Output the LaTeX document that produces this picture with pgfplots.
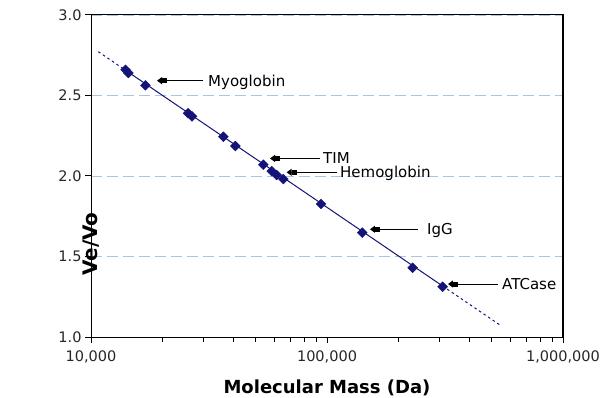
\documentclass[border=0pt]{standalone}
\usepackage{fontspec}
\setmainfont{DejaVu Sans}
\usepackage{pgfplots}
\pgfplotsset{compat=1.18}
\usetikzlibrary{arrows.meta}
\definecolor{navy}{RGB}{20,20,120}
\definecolor{gridblue}{RGB}{170,198,228}
\begin{document}
\begin{tikzpicture}
\begin{axis}[
  xmode=log, log basis x=10,
  scale only axis, width=472bp, height=322bp,
  xmin=1e4, xmax=1e6, ymin=1, ymax=3,
  xtick={1e4,1e5,1e6},
  xticklabels={{10,000},{100,000},{1,000,000}},
  minor xtick={2e4,3e4,4e4,5e4,6e4,7e4,8e4,9e4,2e5,3e5,4e5,5e5,6e5,7e5,8e5,9e5},
  ytick={1,1.5,2,2.5,3},
  yticklabels={1.0,1.5,2.0,2.5,3.0},
  tick align=outside,
  xtick pos=bottom, ytick pos=left,
  major tick length=6bp, minor tick length=5bp,
  every tick/.style={black, line width=1bp},
  axis line style={black, line width=1bp},
  ymajorgrids,
  grid style={gridblue, line width=0.8bp, dash pattern=on 11bp off 5bp},
  tick label style={font=\fontsize{14.5bp}{17bp}\selectfont, text=black!85},
  xticklabel style={yshift=-4bp},
  xlabel={Molecular Mass (Da)},
  ylabel={Ve/Vo},
  xlabel style={font=\fontsize{18bp}{21bp}\selectfont\bfseries, at={(rel axis cs:0.5,0)}, anchor=base, yshift=-56bp},
  ylabel style={font=\fontsize{20bp}{24bp}\selectfont\bfseries, at={(rel axis cs:0,0.486)}, anchor=center, xshift=-63.5bp},
  clip=false,
]
\addplot[navy, line width=1bp, dash pattern=on 2.5bp off 3bp] coordinates {(10740,2.772) (14000,2.657)};
\addplot[navy, line width=1bp] coordinates {(14000,2.657) (309000,1.3165)};
\addplot[navy, line width=1bp, dash pattern=on 2.5bp off 3bp] coordinates {(309000,1.3165) (540000,1.075)};
\addplot[only marks, mark=square*, mark size=3.5bp, mark options={rotate=45, fill=navy, draw=navy}] coordinates {
  (14000,2.660) (14400,2.640) (17000,2.563) (25800,2.390) (26800,2.370)
  (36400,2.244) (40900,2.186) (53700,2.070) (58300,2.030) (61200,2.006)
  (65300,1.981) (94300,1.826) (141000,1.648) (230700,1.430) (309000,1.312)
};
\draw[black, line width=1.2bp] (rel axis cs:1,0) -- (rel axis cs:1,1);
\tikzset{annarrow/.style={black, line width=1bp, -{Rectangle[length=5bp,width=5bp,sep=0pt]Triangle[length=5bp,width=7bp]}},
  anntext/.style={anchor=base west, inner sep=0pt, yshift=-5.5bp, font=\fontsize{15bp}{18bp}\selectfont}}
\draw[annarrow] (axis cs:29830,2.592) -- (axis cs:19040,2.592);
\node[anntext] at (axis cs:31320,2.592) {Myoglobin};
\draw[annarrow] (axis cs:93400,2.109) -- (axis cs:57350,2.109);
\node[anntext] at (axis cs:96200,2.109) {TIM};
\draw[annarrow] (axis cs:109900,2.023) -- (axis cs:67480,2.023);
\node[anntext] at (axis cs:113500,2.023) {Hemoglobin};
\draw[annarrow] (axis cs:243000,1.669) -- (axis cs:152100,1.669);
\node[anntext] at (axis cs:265300,1.669) {IgG};
\draw[annarrow] (axis cs:530300,1.329) -- (axis cs:325600,1.329);
\node[anntext] at (axis cs:551400,1.329) {ATCase};
\end{axis}
\pgfresetboundingbox
\path[use as bounding box] ([shift={(-91bp,-61bp)}]current axis.south west) rectangle ([shift={(47bp,15bp)}]current axis.north east);
\end{tikzpicture}
\end{document}
